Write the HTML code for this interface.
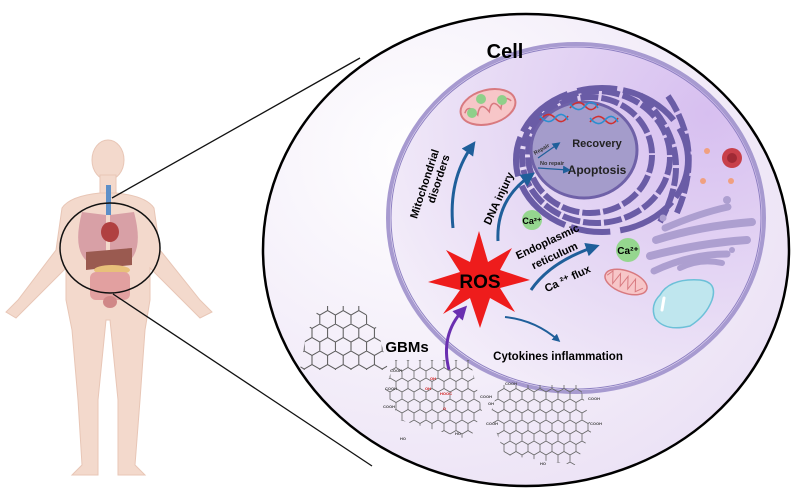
<!DOCTYPE html>
<html><head><meta charset="utf-8"><style>
html,body{margin:0;padding:0;background:#fff;}
svg{display:block;}
text{font-family:"Liberation Sans",sans-serif;font-weight:bold;}
</style></head><body>
<svg width="796" height="491" viewBox="0 0 796 491" xmlns="http://www.w3.org/2000/svg">
<defs>
<radialGradient id="bg" cx="0.3" cy="0.3" r="0.9">
<stop offset="0" stop-color="#ffffff"/><stop offset="1" stop-color="#e9def4"/>
</radialGradient>
<radialGradient id="cellg" cx="0.85" cy="0.2" r="1">
<stop offset="0" stop-color="#d7bff0"/><stop offset="0.6" stop-color="#e8dcf5"/><stop offset="1" stop-color="#f5f0fa"/>
</radialGradient>
<pattern id="hex" width="15.6" height="27" patternUnits="userSpaceOnUse">
<path d="M0 4.5 L7.8 0 L15.6 4.5 L15.6 13.5 L7.8 18 L0 13.5 Z M7.8 18 L7.8 27" fill="none" stroke="#555" stroke-width="1"/>
</pattern>
<pattern id="hex2" width="12" height="21" patternUnits="userSpaceOnUse">
<path d="M0 3.5 L6 0 L12 3.5 L12 10.5 L6 14 L0 10.5 Z M6 14 L6 21" fill="none" stroke="#666" stroke-width="0.8"/>
</pattern>
<marker id="ab" markerWidth="8" markerHeight="8" refX="5" refY="4" orient="auto" markerUnits="userSpaceOnUse"><path d="M0 0 L8 4 L0 8 Z" fill="#1f5f9a"/></marker>
<marker id="ap" markerWidth="14" markerHeight="14" refX="8" refY="7" orient="auto" markerUnits="userSpaceOnUse"><path d="M0 0 L14 7 L0 14 Z" fill="#6a2fb0"/></marker>
<marker id="ab2" markerWidth="14" markerHeight="14" refX="8" refY="7" orient="auto" markerUnits="userSpaceOnUse"><path d="M0 0 L14 7 L0 14 Z" fill="#1f5f9a"/></marker>
</defs>

<!-- human -->
<g fill="#f3d9cc" stroke="#e8c6b6" stroke-width="1">
<ellipse cx="108" cy="160" rx="16" ry="20"/>
<rect x="100" y="175" width="16" height="20"/>
<path d="M62 208 Q70 196 100 193 L116 193 Q146 196 154 208 L160 250 L200 300 L212 312 L200 318 L190 308 L150 268 L150 300 L145 330 L140 400 L135 465 L145 475 L118 475 L118 400 L110 320 L106 320 L98 400 L98 475 L72 475 L82 465 L78 400 L72 330 L66 300 L66 268 L26 308 L16 318 L6 312 L18 300 L56 250 Z"/>
</g>
<g>
<path d="M82 212 Q72 250 88 262 L106 255 L106 215 Z" fill="#d8a0a6"/>
<path d="M134 212 Q144 250 128 262 L110 255 L110 215 Z" fill="#d8a0a6"/>
<ellipse cx="110" cy="232" rx="9" ry="10" fill="#b04040"/>
<rect x="106" y="185" width="5" height="30" fill="#5d8fc8"/>
<path d="M86 252 L132 248 L132 265 L86 270 Z" fill="#9a5a50"/>
<ellipse cx="112" cy="270" rx="18" ry="5" fill="#e8c07a"/>
<rect x="90" y="272" width="40" height="28" rx="6" fill="#e2a0a0"/>
<ellipse cx="110" cy="302" rx="7" ry="6" fill="#d08888"/>
</g>
<ellipse cx="110" cy="248" rx="50" ry="45" fill="none" stroke="#111" stroke-width="1.5"/>
<line x1="112" y1="198" x2="360" y2="58" stroke="#111" stroke-width="1.3"/>
<line x1="113" y1="294" x2="372" y2="466" stroke="#111" stroke-width="1.3"/>

<!-- big circle -->
<ellipse cx="526" cy="250" rx="263" ry="236" fill="url(#bg)" stroke="#000" stroke-width="2.5"/>
<!-- cell -->
<ellipse cx="576" cy="218" rx="188" ry="174" fill="url(#cellg)" stroke="#a79ad0" stroke-width="4"/>
<ellipse cx="576" cy="218" rx="185" ry="171" fill="none" stroke="#8e80c2" stroke-width="1"/>
<text x="505" y="58" font-size="20" text-anchor="middle">Cell</text>

<!-- ER rings -->
<g fill="none" stroke="#6a5ca6" stroke-width="6" stroke-dasharray="18 3">
<ellipse cx="590" cy="155" rx="62" ry="58"/>
<ellipse cx="596" cy="157" rx="74" ry="66"/>
<ellipse cx="602" cy="160" rx="86" ry="72" stroke-dasharray="40 6 60 10"/>
<path d="M640 95 Q700 150 660 222"/>
<path d="M668 96 Q705 150 676 215"/>
</g>
<ellipse cx="584" cy="150" rx="53" ry="48" fill="#a49ccb" stroke="#6f61a8" stroke-width="3"/>
<g stroke-width="1.6" fill="none">
<path d="M540 120 Q548 110 555 118 T568 116" stroke="#d03030"/><path d="M540 116 Q548 126 555 118 T568 120" stroke="#2a8fd0"/>
<path d="M570 108 Q578 98 585 106 T598 104" stroke="#d03030"/><path d="M570 104 Q578 114 585 106 T598 108" stroke="#2a8fd0"/>
<path d="M590 122 Q598 112 605 120 T618 118" stroke="#d03030"/><path d="M590 118 Q598 128 605 120 T618 122" stroke="#2a8fd0"/>
</g>
<text x="597" y="147" font-size="11" text-anchor="middle" fill="#222">Recovery</text>
<text x="597" y="174" font-size="12" text-anchor="middle" fill="#222">Apoptosis</text>
<path d="M538 158 L558 144" stroke="#1f5f9a" stroke-width="1.2" marker-end="url(#ab)"/>
<path d="M538 168 L568 170" stroke="#1f5f9a" stroke-width="1.2" marker-end="url(#ab)"/>
<text x="535" y="155" font-size="5.5" fill="#333" transform="rotate(-30 535 155)">Repair</text>
<text x="540" y="165" font-size="5.5" fill="#333">No repair</text>

<!-- mitochondria -->
<g transform="rotate(-15 488 107)">
<ellipse cx="488" cy="107" rx="28" ry="17" fill="#f7c6c8" stroke="#d87a80" stroke-width="2"/>
<path d="M464 107 Q470 98 476 112 Q482 98 488 112 Q494 98 500 112 Q506 98 512 107" fill="none" stroke="#d87a80" stroke-width="1.5"/>
</g>
<circle cx="481" cy="99" r="5" fill="#8fd08a"/><circle cx="502" cy="100" r="5" fill="#8fd08a"/><circle cx="472" cy="113" r="5" fill="#8fd08a"/>
<g transform="rotate(20 626 282)">
<ellipse cx="626" cy="282" rx="22" ry="11" fill="#f7c6c8" stroke="#d87a80" stroke-width="1.5"/>
<path d="M606 282 L610 276 L614 288 L618 276 L622 288 L626 276 L630 288 L634 276 L638 288 L644 282" fill="none" stroke="#d87a80" stroke-width="1"/>
</g>

<!-- Ca -->
<circle cx="532" cy="220" r="10" fill="#95d68f"/><text x="532" y="224" font-size="9" text-anchor="middle">Ca²⁺</text>
<circle cx="628" cy="250" r="12" fill="#95d68f"/><text x="628" y="254" font-size="10" text-anchor="middle">Ca²⁺</text>

<!-- right organelles -->
<circle cx="732" cy="158" r="10" fill="#c8404a"/><circle cx="732" cy="158" r="5" fill="#a02a35"/>
<circle cx="707" cy="151" r="3" fill="#f0a080"/><circle cx="703" cy="181" r="3" fill="#f0a080"/><circle cx="731" cy="181" r="3" fill="#f0a080"/>
<g stroke="#ad9fd0" stroke-linecap="round" fill="none">
<path d="M665 228 Q700 213 728 207" stroke-width="7"/>
<path d="M656 240 Q700 226 752 222" stroke-width="8"/>
<path d="M650 256 Q700 243 747 240" stroke-width="8"/>
<path d="M654 271 Q690 254 727 254" stroke-width="7"/>
<path d="M680 268 Q700 258 722 263" stroke-width="6"/>
</g>
<circle cx="727" cy="200" r="4" fill="#ad9fd0"/><circle cx="663" cy="218" r="3.5" fill="#ad9fd0"/><circle cx="732" cy="250" r="3" fill="#ad9fd0"/>
<path d="M660 295 Q670 278 700 280 Q718 282 712 300 Q706 316 690 326 Q665 332 655 318 Q650 305 660 295 Z" fill="#bfe6ee" stroke="#6cc0d8" stroke-width="1.5"/>
<path d="M664 298 L662 310" stroke="#fff" stroke-width="3" stroke-linecap="round"/>

<!-- ROS -->
<polygon fill="#ee1c1c" points="479,231 488,262 512,248 500,270 530,280 500,288 515,312 490,298 480,328 470,298 443,314 460,290 428,282 460,272 446,250 470,262"/>
<text x="480" y="288" font-size="19" text-anchor="middle" fill="#000">ROS</text>

<!-- arrows -->
<path d="M453 228 Q448 180 472 146" fill="none" stroke="#1f5f9a" stroke-width="3" marker-end="url(#ab2)"/>
<path d="M498 241 Q496 200 530 176" fill="none" stroke="#1f5f9a" stroke-width="3" marker-end="url(#ab2)"/>
<path d="M531 290 Q550 262 594 247" fill="none" stroke="#1f5f9a" stroke-width="3" marker-end="url(#ab2)"/>
<path d="M505 317 Q535 320 558 340" fill="none" stroke="#1f5f9a" stroke-width="2" marker-end="url(#ab)"/>
<path d="M449 370 Q440 335 463 310" fill="none" stroke="#6a2fb0" stroke-width="3" marker-end="url(#ap)"/>

<text font-size="11" transform="translate(428,185) rotate(-72)" text-anchor="middle">Mitochondrial</text>
<text font-size="11" transform="translate(442,180) rotate(-72)" text-anchor="middle">disorders</text>
<text font-size="11" transform="translate(502,200) rotate(-65)" text-anchor="middle">DNA injury</text>
<text font-size="11" transform="translate(549,245) rotate(-25)" text-anchor="middle">Endoplasmic</text>
<text font-size="11" transform="translate(556,259) rotate(-25)" text-anchor="middle">reticulum</text>
<text font-size="11" transform="translate(569,282) rotate(-25)" text-anchor="middle">Ca ²⁺ flux</text>
<text x="558" y="360" font-size="11.5" text-anchor="middle">Cytokines inflammation</text>
<text x="407" y="352" font-size="15" text-anchor="middle">GBMs</text>

<!-- graphene -->
<path d="M320 306 L360 306 L378 330 L388 370 L300 370 L306 335 Z" fill="url(#hex)"/>
<path d="M395 360 L470 360 L482 410 L470 440 L400 420 L385 390 Z" fill="url(#hex2)"/>
<path d="M500 385 L580 385 L592 430 L575 465 L505 455 L490 415 Z" fill="url(#hex2)"/>
<g font-size="4" fill="#444" font-weight="normal">
<text x="390" y="372">COOH</text><text x="385" y="390">COOH</text><text x="383" y="408">COOH</text><text x="480" y="398">COOH</text><text x="400" y="440">HO</text><text x="455" y="435">HO</text>
<text x="505" y="385">COOH</text><text x="488" y="405">OH</text><text x="486" y="425">COOH</text><text x="588" y="400">COOH</text><text x="590" y="425">COOH</text><text x="540" y="465">HO</text>
</g>
<g font-size="4" fill="#d02020" font-weight="normal"><text x="430" y="380">OH</text><text x="425" y="390">OH</text><text x="440" y="395">HOOC</text><text x="443" y="410">O</text></g>
</svg>
</body></html>
